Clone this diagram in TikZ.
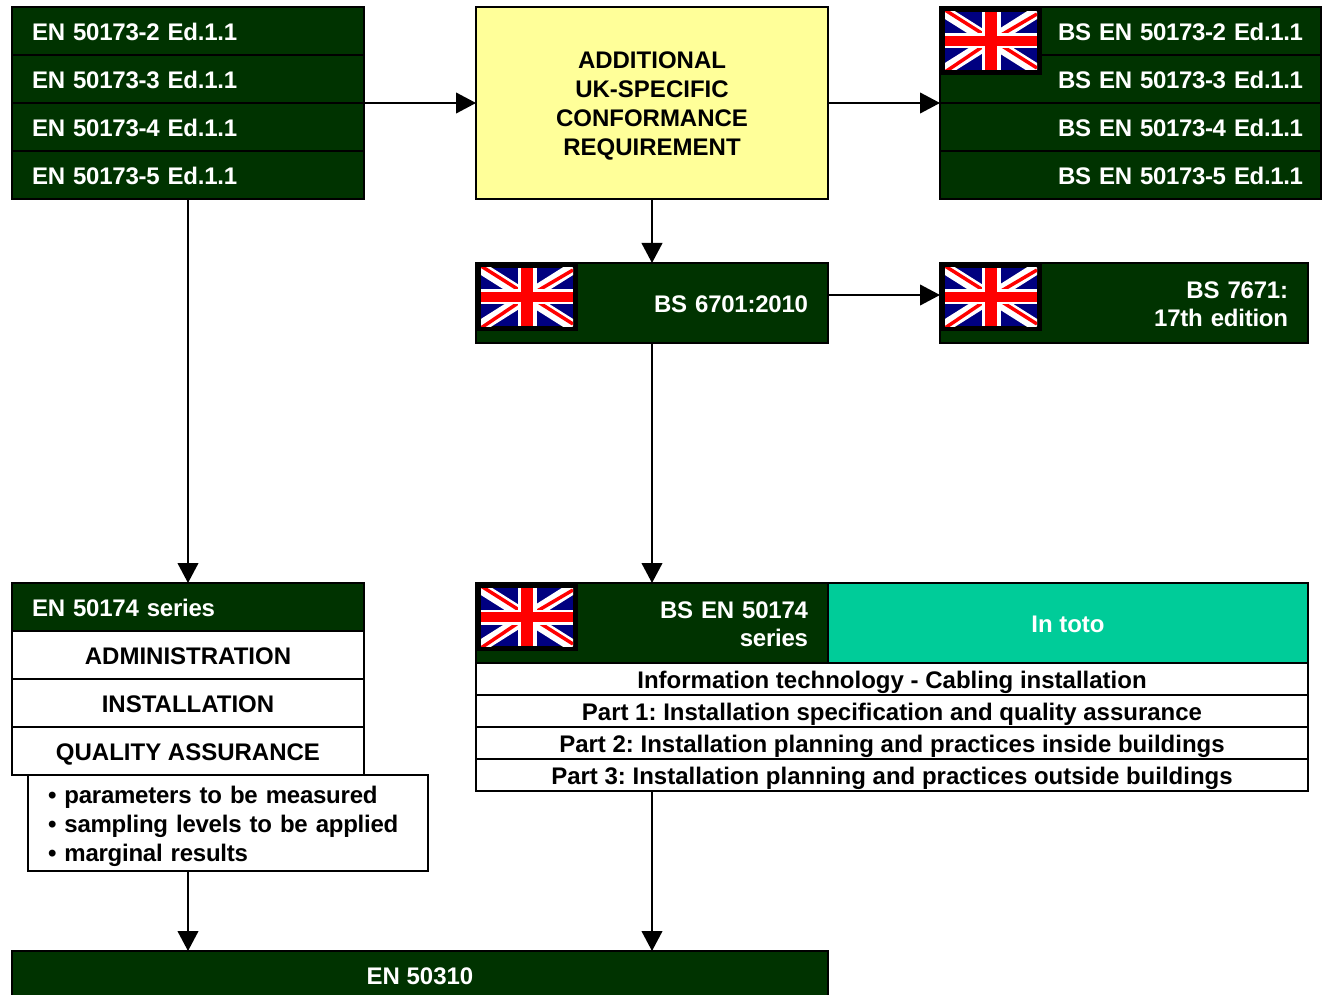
\documentclass[tikz,border=0pt]{standalone}
\usepackage{fontspec}
\setmainfont{Liberation Sans}
\usetikzlibrary{positioning}
\usetikzlibrary{arrows.meta}
\definecolor{stdgreen}{RGB}{0,51,0}
\definecolor{stdyellow}{RGB}{255,255,153}
\definecolor{stdteal}{RGB}{0,204,153}
\definecolor{flagblue}{RGB}{0,0,128}
\tikzset{
    box/.style = {rectangle, draw=black, line width=1.5pt, anchor=north west, outer sep=0pt, inner ysep=0pt,
        font=\fontsize{18}{21.75}\selectfont\bfseries\frenchspacing},
    oneline/.style = {text height=14.4pt, text depth=0pt},
    tight/.style = {font=\fontsize{18}{21}\selectfont\bfseries\frenchspacing\addfontfeatures{LetterSpace=-1}},
    tighter/.style = {font=\fontsize{18}{21}\selectfont\bfseries\frenchspacing\addfontfeatures{LetterSpace=-1.5}},
    greenrow/.style = {box, fill=stdgreen, text=white, minimum height=36pt},
    whiterow/.style = {box, oneline, fill=white, text=black, minimum height=36pt, minimum width=264pt},
    partrow/.style = {box, oneline, fill=white, text=black, minimum height=24pt, minimum width=624pt},
    enrow/.style = {greenrow, oneline, tight, minimum width=264pt, inner xsep=15pt, text width=234pt, align=left},
    bsrow/.style = {greenrow, oneline, tighter, minimum width=285.75pt, inner xsep=13.5pt, text width=258.75pt, align=right},
    headrow/.style = {greenrow, tight, minimum height=60pt, inner xsep=15pt, align=right},
    twolines/.style = {text height=12.9pt, text depth=19.4pt},
    edgen/.style = {-{Triangle[length=15pt,width=15.5pt]}, line width=1.5pt, black},
    ukflag/.pic = {
        \fill[black] (0,0) rectangle (102,68);
        \begin{scope}
        \clip (5,5) rectangle (97,63);
        \fill[flagblue] (5,5) rectangle (97,63);
        \draw[white,line width=9pt] (5,5) -- (97,63) (5,63) -- (97,5);
        \draw[red,line width=2.6pt] (5,3) -- (51,32) -- (97,61);
        \draw[red,line width=2.6pt] (5,65) -- (51,34) -- (97,7);
        \fill[white] (41.5,5) rectangle (60.5,63);
        \fill[white] (5,26.5) rectangle (97,41.5);
        \fill[red] (45,5) rectangle (57,63);
        \fill[red] (5,29) rectangle (97,39);
        \end{scope}
    }
}
\begin{document}
\begin{tikzpicture}[x=0.75pt,y=-0.75pt]
\useasboundingbox (0,0) rectangle (1322,995);
%
\node[enrow] at (12,7) (en2) {EN 50173-2 Ed.1.1};
\node[enrow] at (12,55) (en3) {EN 50173-3 Ed.1.1};
\node[enrow] at (12,103) (en4) {EN 50173-4 Ed.1.1};
\node[enrow] at (12,151) (en5) {EN 50173-5 Ed.1.1};
%
\node[box,fill=stdyellow,minimum width=264pt,minimum height=144pt,align=center,text height=79.4pt,text depth=0pt] at (476,7) (extra)
    {ADDITIONAL\\UK-SPECIFIC\\CONFORMANCE\\REQUIREMENT};
%
\node[bsrow] at (940,7) (bs2) {BS EN 50173-2 Ed.1.1};
\node[bsrow] at (940,55) (bs3) {BS EN 50173-3 Ed.1.1};
\node[bsrow] at (940,103) (bs4) {BS EN 50173-4 Ed.1.1};
\node[bsrow] at (940,151) (bs5) {BS EN 50173-5 Ed.1.1};
%
\node[headrow,oneline,minimum width=264pt,text width=234pt] at (476,263) (bs6701) {BS 6701:2010};
\node[headrow,twolines,minimum width=276pt,text width=246pt] at (940,263) (bs7671) {BS 7671:\\17th edition};
%
\node[enrow] at (12,583) (en50174) {EN 50174 series};
\node[whiterow,align=center] at (12,631) (admin) {ADMINISTRATION};
\node[whiterow,align=center] at (12,679) (install) {INSTALLATION};
\node[whiterow,align=center] at (12,727) (quality) {QUALITY ASSURANCE};
\node[box,fill=white,minimum width=300pt,minimum height=72pt,inner xsep=15pt,text width=270pt,align=left,text height=13pt,text depth=42.5pt,
    font=\fontsize{18}{21.75}\selectfont\bfseries\frenchspacing\addfontfeatures{LetterSpace=-1}] at (28,775) (bullets)
    {\textbullet\ parameters to be measured\\\textbullet\ sampling levels to be applied\\\textbullet\ marginal results};
%
\node[headrow,twolines,minimum width=264pt,text width=234pt] at (476,583) (bs50174) {BS EN 50174\\series};
\node[box,oneline,fill=stdteal,text=white,minimum width=360pt,minimum height=60pt] at (828,583) (toto) {In toto};
\node[partrow] at (476,663) (cabling) {Information technology - Cabling installation};
\node[partrow] at (476,695) (part1) {Part 1: Installation specification and quality assurance};
\node[partrow] at (476,727) (part2) {Part 2: Installation planning and practices inside buildings};
\node[partrow] at (476,759) (part3) {Part 3: Installation planning and practices outside buildings};
%
\node[greenrow,text height=13pt,text depth=0pt,minimum width=612pt,minimum height=37.5pt] at (12,951) (en50310) {EN 50310};
%
\pic at (940,7) {ukflag};
\pic at (476,263) {ukflag};
\pic at (940,263) {ukflag};
\pic at (476,583) {ukflag};
%
\draw[edgen] (en5.south) -- (en50174.north);
\draw[edgen] (en3.south east) -- (extra.west);
\draw[edgen] (extra.east) -- (bs3.south west);
\draw[edgen] (extra.south) -- (bs6701.north);
\draw[edgen] ([yshift=6pt]bs6701.east) -- ([yshift=6pt]bs7671.west);
\draw[edgen] (bs6701.south) -- (bs50174.north);
\draw[edgen] (quality.south |- bullets.south) -- (quality.south |- en50310.north);
\draw[edgen] (bs50174.south |- part3.south) -- (bs50174.south |- en50310.north);

\end{tikzpicture}
\end{document}
